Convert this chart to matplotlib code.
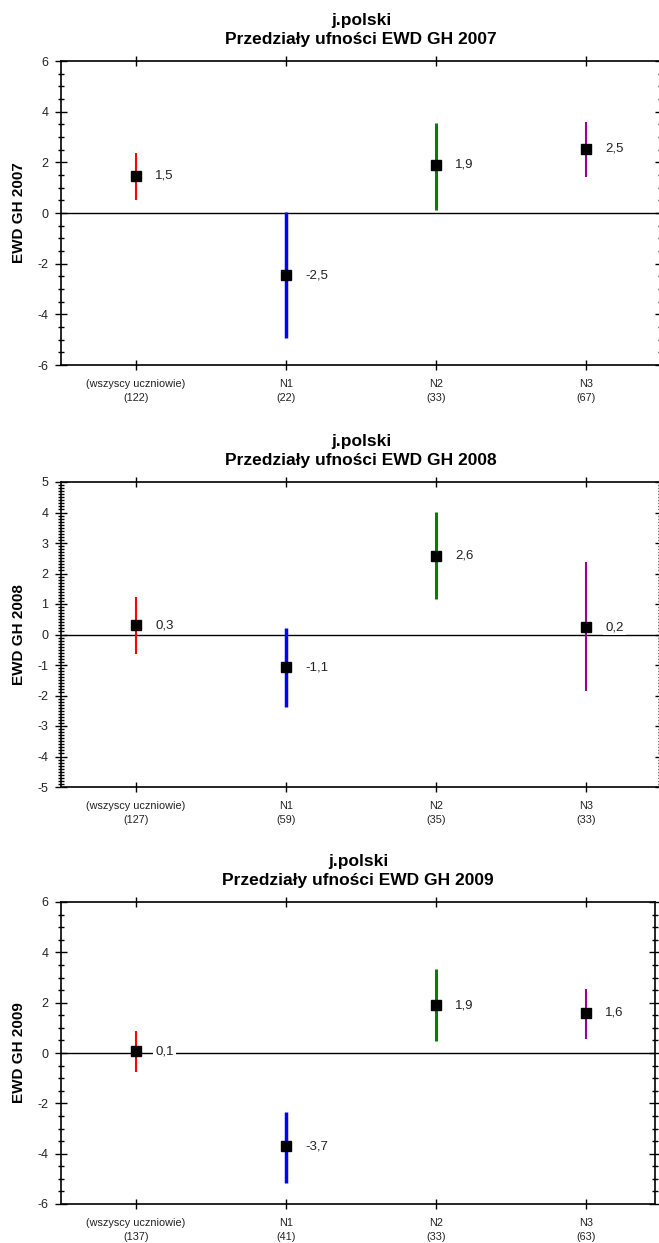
import matplotlib

matplotlib.use("Agg")
import matplotlib.pyplot as plt
from matplotlib.ticker import MultipleLocator

plt.rcParams["font.family"] = ["Liberation Sans", "DejaVu Sans"]
plt.rcParams["axes.unicode_minus"] = False

W, H = 659, 1243

subject = "j.polski"
groups = ["(wszyscy uczniowie)", "N1", "N2", "N3"]
years = [2007, 2008, 2009]

counts_2007 = [122, 22, 33, 67]
mean_2007 = [1.47, -2.46, 1.90, 2.54]
low_2007 = [0.52, -4.95, 0.13, 1.44]
high_2007 = [2.38, 0.02, 3.57, 3.60]

counts_2008 = [127, 59, 35, 33]
mean_2008 = [0.30, -1.08, 2.58, 0.24]
low_2008 = [-0.64, -2.38, 1.16, -1.86]
high_2008 = [1.23, 0.20, 4.02, 2.38]

counts_2009 = [137, 41, 33, 63]
mean_2009 = [0.06, -3.70, 1.90, 1.59]
low_2009 = [-0.76, -5.16, 0.48, 0.56]
high_2009 = [0.87, -2.35, 3.34, 2.54]

colors = ["#ff0000", "#0000ff", "#008000", "#990099"]
widths = [1.5, 2.5, 2.2, 1.5]

panels = [
    (counts_2007, mean_2007, low_2007, high_2007, (-6, 6), 2, 0.5, (61, 661, 61, 365)),
    (counts_2008, mean_2008, low_2008, high_2008, (-5, 5), 1, 0.1, (61, 661, 482, 787)),
    (counts_2009, mean_2009, low_2009, high_2009, (-6, 6), 2, 0.5, (61, 655, 902, 1204)),
]

fig = plt.figure(figsize=(W / 100, H / 100), dpi=100)

for year, (counts, means, lows, highs, ylim, major, minor, box) in zip(years, panels):
    x0, x1, y0, y1 = box
    ax = fig.add_axes([x0 / W, 1 - y1 / H, (x1 - x0) / W, (y1 - y0) / H])
    xs = list(range(len(groups)))
    ax.axhline(0, color="black", lw=1.0, zorder=1)
    for x, m, lo, hi, c, lw in zip(xs, means, lows, highs, colors, widths):
        ax.vlines(x, lo, hi, color=c, lw=lw, zorder=2)
        ax.plot(x, m, marker="s", color="black", ms=7.5, zorder=3)
        ax.annotate(
            f"{m:.1f}".replace(".", ","),
            (x, m),
            xytext=(14, 0),
            textcoords="offset points",
            va="center",
            ha="left",
            fontsize=9.5,
            color="#222222",
            bbox=dict(boxstyle="square,pad=0.15", fc="white", ec="none"),
            zorder=4,
        )
    right_edge = 3.5 if x1 > 659 else 3.46
    ax.set_xlim(-0.5, right_edge)
    ax.set_ylim(*ylim)
    ax.set_xticks(xs)
    ax.set_xticklabels([f"{g}\n({n})" for g, n in zip(groups, counts)], fontsize=7.8, color="#222222",
                       linespacing=1.5)
    ax.yaxis.set_major_locator(MultipleLocator(major))
    ax.yaxis.set_minor_locator(MultipleLocator(minor))
    ax.tick_params(axis="y", which="major", direction="inout", length=8, width=1, labelsize=9,
                   right=True, pad=5, labelcolor="#222222")
    ax.tick_params(axis="y", which="minor", direction="inout", length=5, width=1, right=True)
    ax.tick_params(axis="x", which="major", direction="inout", length=7, width=1, top=True, pad=6.5)
    for s in ax.spines.values():
        s.set_linewidth(1.2)
    ax.set_ylabel(f"EWD GH {year}", fontsize=11, fontweight="bold", labelpad=8)
    ax.set_title(f"{subject}\nPrzedziały ufności EWD GH {year}", fontsize=12.5, fontweight="bold",
                 pad=12, linespacing=1.35)

fig.savefig("out.png", dpi=100)
